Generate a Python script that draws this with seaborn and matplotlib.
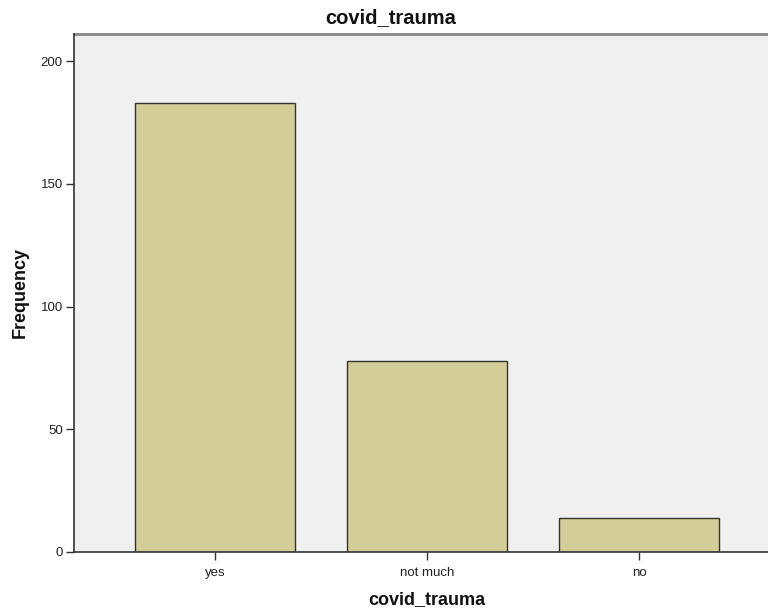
import matplotlib
matplotlib.use("Agg")
import matplotlib.pyplot as plt
import seaborn as sns
import pandas as pd

categories = ["yes", "not much", "no"]
frequency = [183, 78, 14]
yticks = [0, 50, 100, 150, 200]

df = pd.DataFrame({"covid_trauma": categories, "Frequency": frequency})

sns.set_theme(style="white")
plt.rcParams["font.family"] = ["Liberation Sans", "DejaVu Sans"]

fig = plt.figure(figsize=(7.68, 6.11), dpi=100)
ax = fig.add_axes([74/768, 59/611, 694/768, 518/611])
ax.set_facecolor("#F0F0F0")

sns.barplot(data=df, x="covid_trauma", y="Frequency", order=categories,
            color="#D3CE97", saturation=1, width=0.752,
            edgecolor="#333333", linewidth=1.0, ax=ax)

ax.set_xlim(-0.665, 2.608)
ax.set_ylim(0, 211.1)
ax.set_yticks(yticks)
ax.set_yticklabels([str(v) for v in yticks])

for s in ["top", "right"]:
    ax.spines[s].set_visible(False)
ax.spines["left"].set_color("#333333")
ax.spines["bottom"].set_color("#333333")
ax.spines["left"].set_linewidth(1.2)
ax.spines["bottom"].set_linewidth(1.2)
ax.axhline(211.1, color="#888888", linewidth=2.0, clip_on=False)

ax.tick_params(axis="y", direction="out", length=6, width=1, color="#333333",
               labelsize=9.5, labelcolor="#222222", left=True, pad=2)
ax.tick_params(axis="x", direction="out", length=6, width=1, color="#333333",
               labelsize=9.5, labelcolor="#222222", bottom=True, pad=5)

ax.set_xlabel("covid_trauma", fontsize=13, fontweight="bold", color="#111111")
ax.set_ylabel("Frequency", fontsize=13, fontweight="bold", color="#111111")
ax.xaxis.set_label_coords((427-74)/694, -0.075)
ax.yaxis.set_label_coords(-(74-29)/694, 0.5)

fig.text(391/768, 1 - 18/611, "covid_trauma", ha="center", va="center",
         fontsize=14.5, fontweight="bold", color="#111111")

fig.savefig("out.png", dpi=100)
